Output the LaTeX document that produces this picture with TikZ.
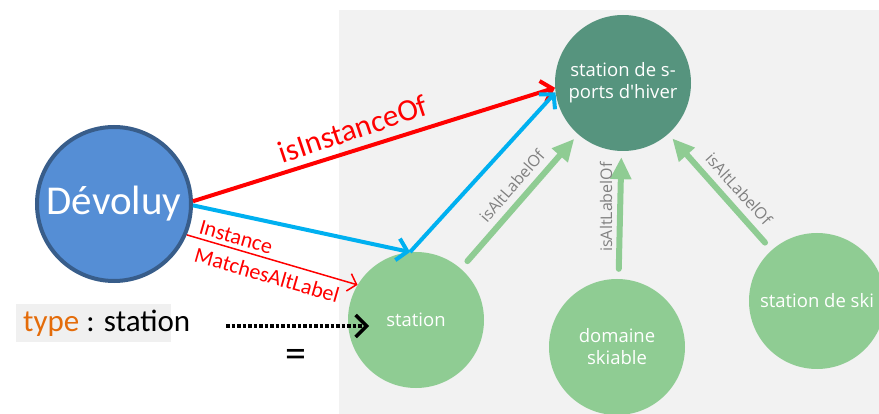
\documentclass[tikz,border=0pt]{standalone}
\usepackage{fontspec}
\setmainfont{Carlito}
\newfontfamily\graphfont{Open Sans}
\usetikzlibrary{arrows.meta}

\definecolor{panelgrey}{RGB}{242,242,242}
\definecolor{devfill}{RGB}{85,142,213}
\definecolor{devborder}{RGB}{56,93,138}
\definecolor{topgreen}{RGB}{86,148,126}
\definecolor{lightgreen}{RGB}{143,204,147}
\definecolor{linkblue}{RGB}{0,176,240}
\definecolor{linkred}{RGB}{255,0,0}
\definecolor{typeorange}{RGB}{228,108,10}
\definecolor{labelgrey}{RGB}{128,128,128}
\definecolor{typebox}{RGB}{240,240,240}

\tikzset{
  concept/.style={circle, minimum size=136pt, inner sep=0pt, text=white,
    align=center, font=\graphfont\fontsize{18.5}{22}\selectfont},
  altlink/.style={draw=lightgreen, line width=6pt, line cap=round,
    shorten <=10pt, shorten >=6pt,
    -{Triangle[length=22pt,width=20pt]}},
  altlabel/.style={text=labelgrey, font=\graphfont\fontsize{16}{18}\selectfont, inner sep=0pt},
  boldlink/.style={line width=4pt,
    -{Straight Barb[length=10pt,width=22pt,line width=4pt]}},
}

\begin{document}
\begin{tikzpicture}[x=1pt,y=-1pt]
\useasboundingbox (0,0) rectangle (879,414);

% graph panel
\fill[panelgrey] (339,10) rectangle (879,414);

% concept nodes
\node[concept, fill=topgreen] (top) at (623,83) {station de s-\\ports d'hiver};
\node[concept, fill=lightgreen] (station) at (416,320) {station};
\node[concept, fill=lightgreen] (domaine) at (617,347) {domaine\\skiable};
\node[concept, fill=lightgreen] (ski) at (817,301) {station de ski};

% alternative-label links
\draw[altlink] (station) -- (top);
\draw[altlink] (domaine) -- (top);
\draw[altlink] (ski) -- (top);
\node[altlabel, rotate=49] (alt1) at (512,186) {isAltLabelOf};
\node[altlabel, rotate=90] (alt2) at (606,207) {isAltLabelOf};
\node[altlabel, rotate=-48] (alt3) at (739,189) {isAltLabelOf};

% instance
\node[circle, draw=devborder, line width=4pt, fill=devfill, minimum size=154pt,
  inner sep=0pt, text=white, font=\fontsize{41}{48}\selectfont] (dev) at (114,204) {Dévoluy};

% links from the instance
\draw[boldlink, draw=linkred] (dev.2) -- (top.184);
\draw[boldlink, draw=linkblue] (dev.-1) -- (station.95);
\draw[boldlink, draw=linkblue] (station.95) -- (top.188);
\draw[draw=linkred, line width=1.5pt,
  -{Straight Barb[length=8pt,width=18pt,line width=1.5pt]}] (dev.-23) -- (station.149);

\node[text=linkred, rotate=18.5, font=\fontsize{31}{36}\selectfont] (lblinst) at (353,129) {isInstanceOf};
\node[text=linkred, rotate=-16, font=\fontsize{22}{26}\selectfont] (lblmatch1) at (236,237) {Instance};
\node[text=linkred, rotate=-16, font=\fontsize{22}{26}\selectfont] (lblmatch2) at (267,275) {MatchesAltLabel};

% type property
\fill[typebox] (16,304) rectangle (171,342);
\node[anchor=west, inner sep=0pt, font=\fontsize{31}{36}\selectfont] (typeprop) at (23,323)
  {\textcolor{typeorange}{type} : station};

\coordinate (dotstart) at (226,326);
\coordinate (dottip) at (369,326);
\draw[line width=3.5pt, dotted,
  -{Straight Barb[length=11pt,width=22pt,line width=3.5pt]}] (dotstart) -- (dottip);
\node[font=\fontsize{42}{46}\selectfont, inner sep=0pt] (eqsign) at (296,358) {=};
\end{tikzpicture}
\end{document}
